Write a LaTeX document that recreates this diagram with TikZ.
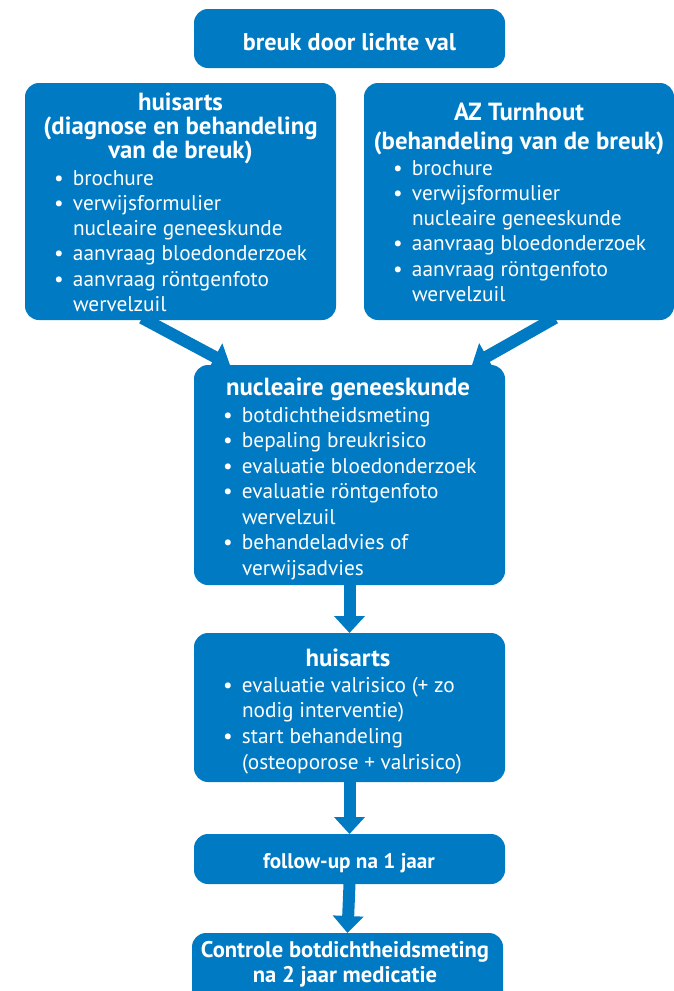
\documentclass[tikz,border=0pt]{standalone}
\usepackage{fontspec}
\setmainfont{PT Sans}
\usetikzlibrary{arrows.meta,backgrounds,calc}
\definecolor{azblue}{RGB}{0,122,194}
\tikzset{
  box/.style={fill=azblue, draw=none, rounded corners=14pt, inner sep=0pt, outer sep=0pt},
  flow/.style={draw=azblue, line width=12pt, -{Triangle[width=30pt,length=17pt]}},
  txt/.style={text=white, inner sep=0pt, outer sep=0pt},
}
\newcommand\itm{\leavevmode\llap{\makebox[28pt][c]{\textbullet}}}
\newcommand\bodyfont{\fontsize{21.3}{25.3}\selectfont}
\newcommand\ttlfont{\fontsize{24.8}{24}\selectfont\bfseries}
\begin{document}
\begin{tikzpicture}[x=1pt,y=-1pt]
\path[use as bounding box, clip] (0,0) rectangle (674,991);
% boxes
\node[box, minimum width=311pt, minimum height=59pt]  (b1) at (349.5,38.5) {};
\node[box, minimum width=311pt, minimum height=237pt] (b2) at (180.5,201.5) {};
\node[box, minimum width=310pt, minimum height=237pt] (b3) at (519,201.5) {};
\node[box, minimum width=311pt, minimum height=220pt] (b4) at (349.5,475) {};
\node[box, minimum width=311pt, minimum height=149pt] (b5) at (349.5,707.5) {};
\node[box, minimum width=311pt, minimum height=50pt]  (b6) at (349.5,859) {};
\node[box, minimum width=311pt, minimum height=72pt]  (b7) at (347.5,969) {};
% arrows
\begin{pgfonlayer}{background}
\draw[flow] ($(b2.south west)+(117,-2)$) -- ($(b4.north west)+(36,0)$);
\draw[flow] ($(b3.south west)+(191,-2)$) -- ($(b4.north east)+(-33,0)$);
\draw[flow] (b4.south) -- (b5.north);
\draw[flow] (b5.south) -- (b6.north);
\draw[flow] (b6.south) -- (b7.north);
\end{pgfonlayer}
% texts
\node[txt, anchor=base] (t1) at (349.5,50) {\fontsize{24.2}{25}\selectfont\bfseries breuk door lichte val};
\node[txt, anchor=base] (t2) at (180.5,110) {\begin{minipage}[t]{310pt}\centering\ttlfont
huisarts\\(diagnose en behandeling\\van de breuk)\end{minipage}};
\node[txt, anchor=base west] (l2) at (73,185) {\begin{minipage}[t]{260pt}\bodyfont
\itm brochure\par
\itm verwijsformulier\par
nucleaire geneeskunde\par
\itm aanvraag bloedonderzoek\par
\itm aanvraag röntgenfoto\par
wervelzuil\end{minipage}};
\node[txt, anchor=base] (t3) at (519,120) {\begin{minipage}[t]{310pt}\centering\ttlfont
AZ Turnhout\\[5pt](behandeling van de breuk)\end{minipage}};
\node[txt, anchor=base west] (l3) at (412,175) {\begin{minipage}[t]{260pt}\bodyfont
\itm brochure\par
\itm verwijsformulier\par
nucleaire geneeskunde\par
\itm aanvraag bloedonderzoek\par
\itm aanvraag röntgenfoto\par
wervelzuil\end{minipage}};
\node[txt, anchor=base] (t4) at (348,395) {\ttlfont nucleaire geneeskunde};
\node[txt, anchor=base west] (l4) at (242,422) {\begin{minipage}[t]{260pt}\fontsize{21.3}{25.5}\selectfont
\itm botdichtheidsmeting\par
\itm bepaling breukrisico\par
\itm evaluatie bloedonderzoek\par
\itm evaluatie röntgenfoto\par
wervelzuil\par
\itm behandeladvies of\par
verwijsadvies\end{minipage}};
\node[txt, anchor=base] (t5) at (348,666) {\ttlfont huisarts};
\node[txt, anchor=base west] (l5) at (242,692) {\begin{minipage}[t]{260pt}\fontsize{21.3}{25.7}\selectfont
\itm evaluatie valrisico (+ zo\par
nodig interventie)\par
\itm start behandeling\par
(osteoporose + valrisico)\end{minipage}};
\node[txt, anchor=base] (t6) at (349,868) {\fontsize{21.2}{25}\selectfont\bfseries follow-up na 1 jaar};
\node[txt, anchor=base] (t7) at (345,957) {\begin{minipage}[t]{308pt}\centering\fontsize{22.6}{25}\selectfont\bfseries
Controle botdichtheidsmeting\\na 2 jaar medicatie\end{minipage}};
\end{tikzpicture}
\end{document}
